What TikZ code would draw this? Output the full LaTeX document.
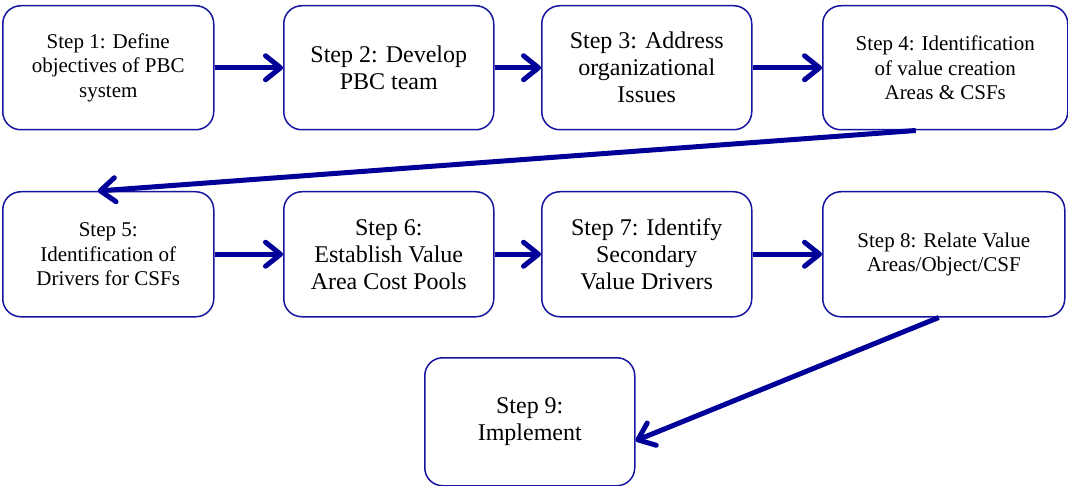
\documentclass[tikz,border=0pt]{standalone}
\usepackage{fontspec}
\setmainfont{Liberation Serif}
\usetikzlibrary{arrows.meta}
\definecolor{flowblue}{HTML}{000099}
\definecolor{edgeblue}{HTML}{1515A0}
\tikzset{
  stepbox/.style={draw=edgeblue, line width=1.5pt, rounded corners=18pt, fill=white,
    align=center, inner sep=0pt, anchor=north west, text=black},
  smalltext/.style={font=\fontsize{21}{24.5}\selectfont},
  largetext/.style={font=\fontsize{24}{27}\selectfont},
  flow/.style={draw=flowblue, line width=5pt,
    -{Straight Barb[length=15pt,width=24pt,round]}}
}
\begin{document}
\begin{tikzpicture}[x=1pt, y=-1pt]
  \useasboundingbox (0,0) rectangle (1068,486);

  % first row
  \node[stepbox, smalltext, minimum width=211pt, minimum height=124pt] (b1) at (2,5)
    {Step 1: Define\\objectives of PBC\\system};
  \node[stepbox, largetext, minimum width=210pt, minimum height=124pt] (b2) at (283,5)
    {Step 2: Develop\\PBC team};
  \node[stepbox, largetext, minimum width=210pt, minimum height=124pt] (b3) at (541,5)
    {Step 3: Address\\organizational\\Issues};
  \node[stepbox, smalltext, minimum width=245pt, minimum height=124pt] (b4) at (822,5)
    {Step 4: Identification\\of value creation\\Areas \& CSFs};

  % second row
  \node[stepbox, smalltext, minimum width=211pt, minimum height=125pt] (b5) at (2,191)
    {Step 5:\\Identification of\\Drivers for CSFs};
  \node[stepbox, largetext, minimum width=210pt, minimum height=125pt] (b6) at (283,191)
    {Step 6:\\Establish Value\\Area Cost Pools};
  \node[stepbox, largetext, minimum width=210pt, minimum height=125pt] (b7) at (541,191)
    {Step 7: Identify\\Secondary\\Value Drivers};
  \node[stepbox, smalltext, minimum width=242pt, minimum height=125pt] (b8) at (822,191)
    {Step 8: Relate Value\\Areas/Object/CSF};

  % last step
  \node[stepbox, largetext, minimum width=210pt, minimum height=128pt] (b9) at (424,357)
    {Step 9:\\Implement};

  % connectors
  \draw[flow] (b1.east) -- (b2.west);
  \draw[flow] (b2.east) -- (b3.west);
  \draw[flow] (b3.east) -- (b4.west);
  \draw[flow] ([xshift=-29.5pt]b4.south) -- ([xshift=-10.5pt]b5.north);
  \draw[flow] (b5.east) -- (b6.west);
  \draw[flow] (b6.east) -- (b7.west);
  \draw[flow] (b7.east) -- (b8.west);
  \draw[flow] ([xshift=-5pt]b8.south) -- ([yshift=-19pt]b9.east);
\end{tikzpicture}
\end{document}
